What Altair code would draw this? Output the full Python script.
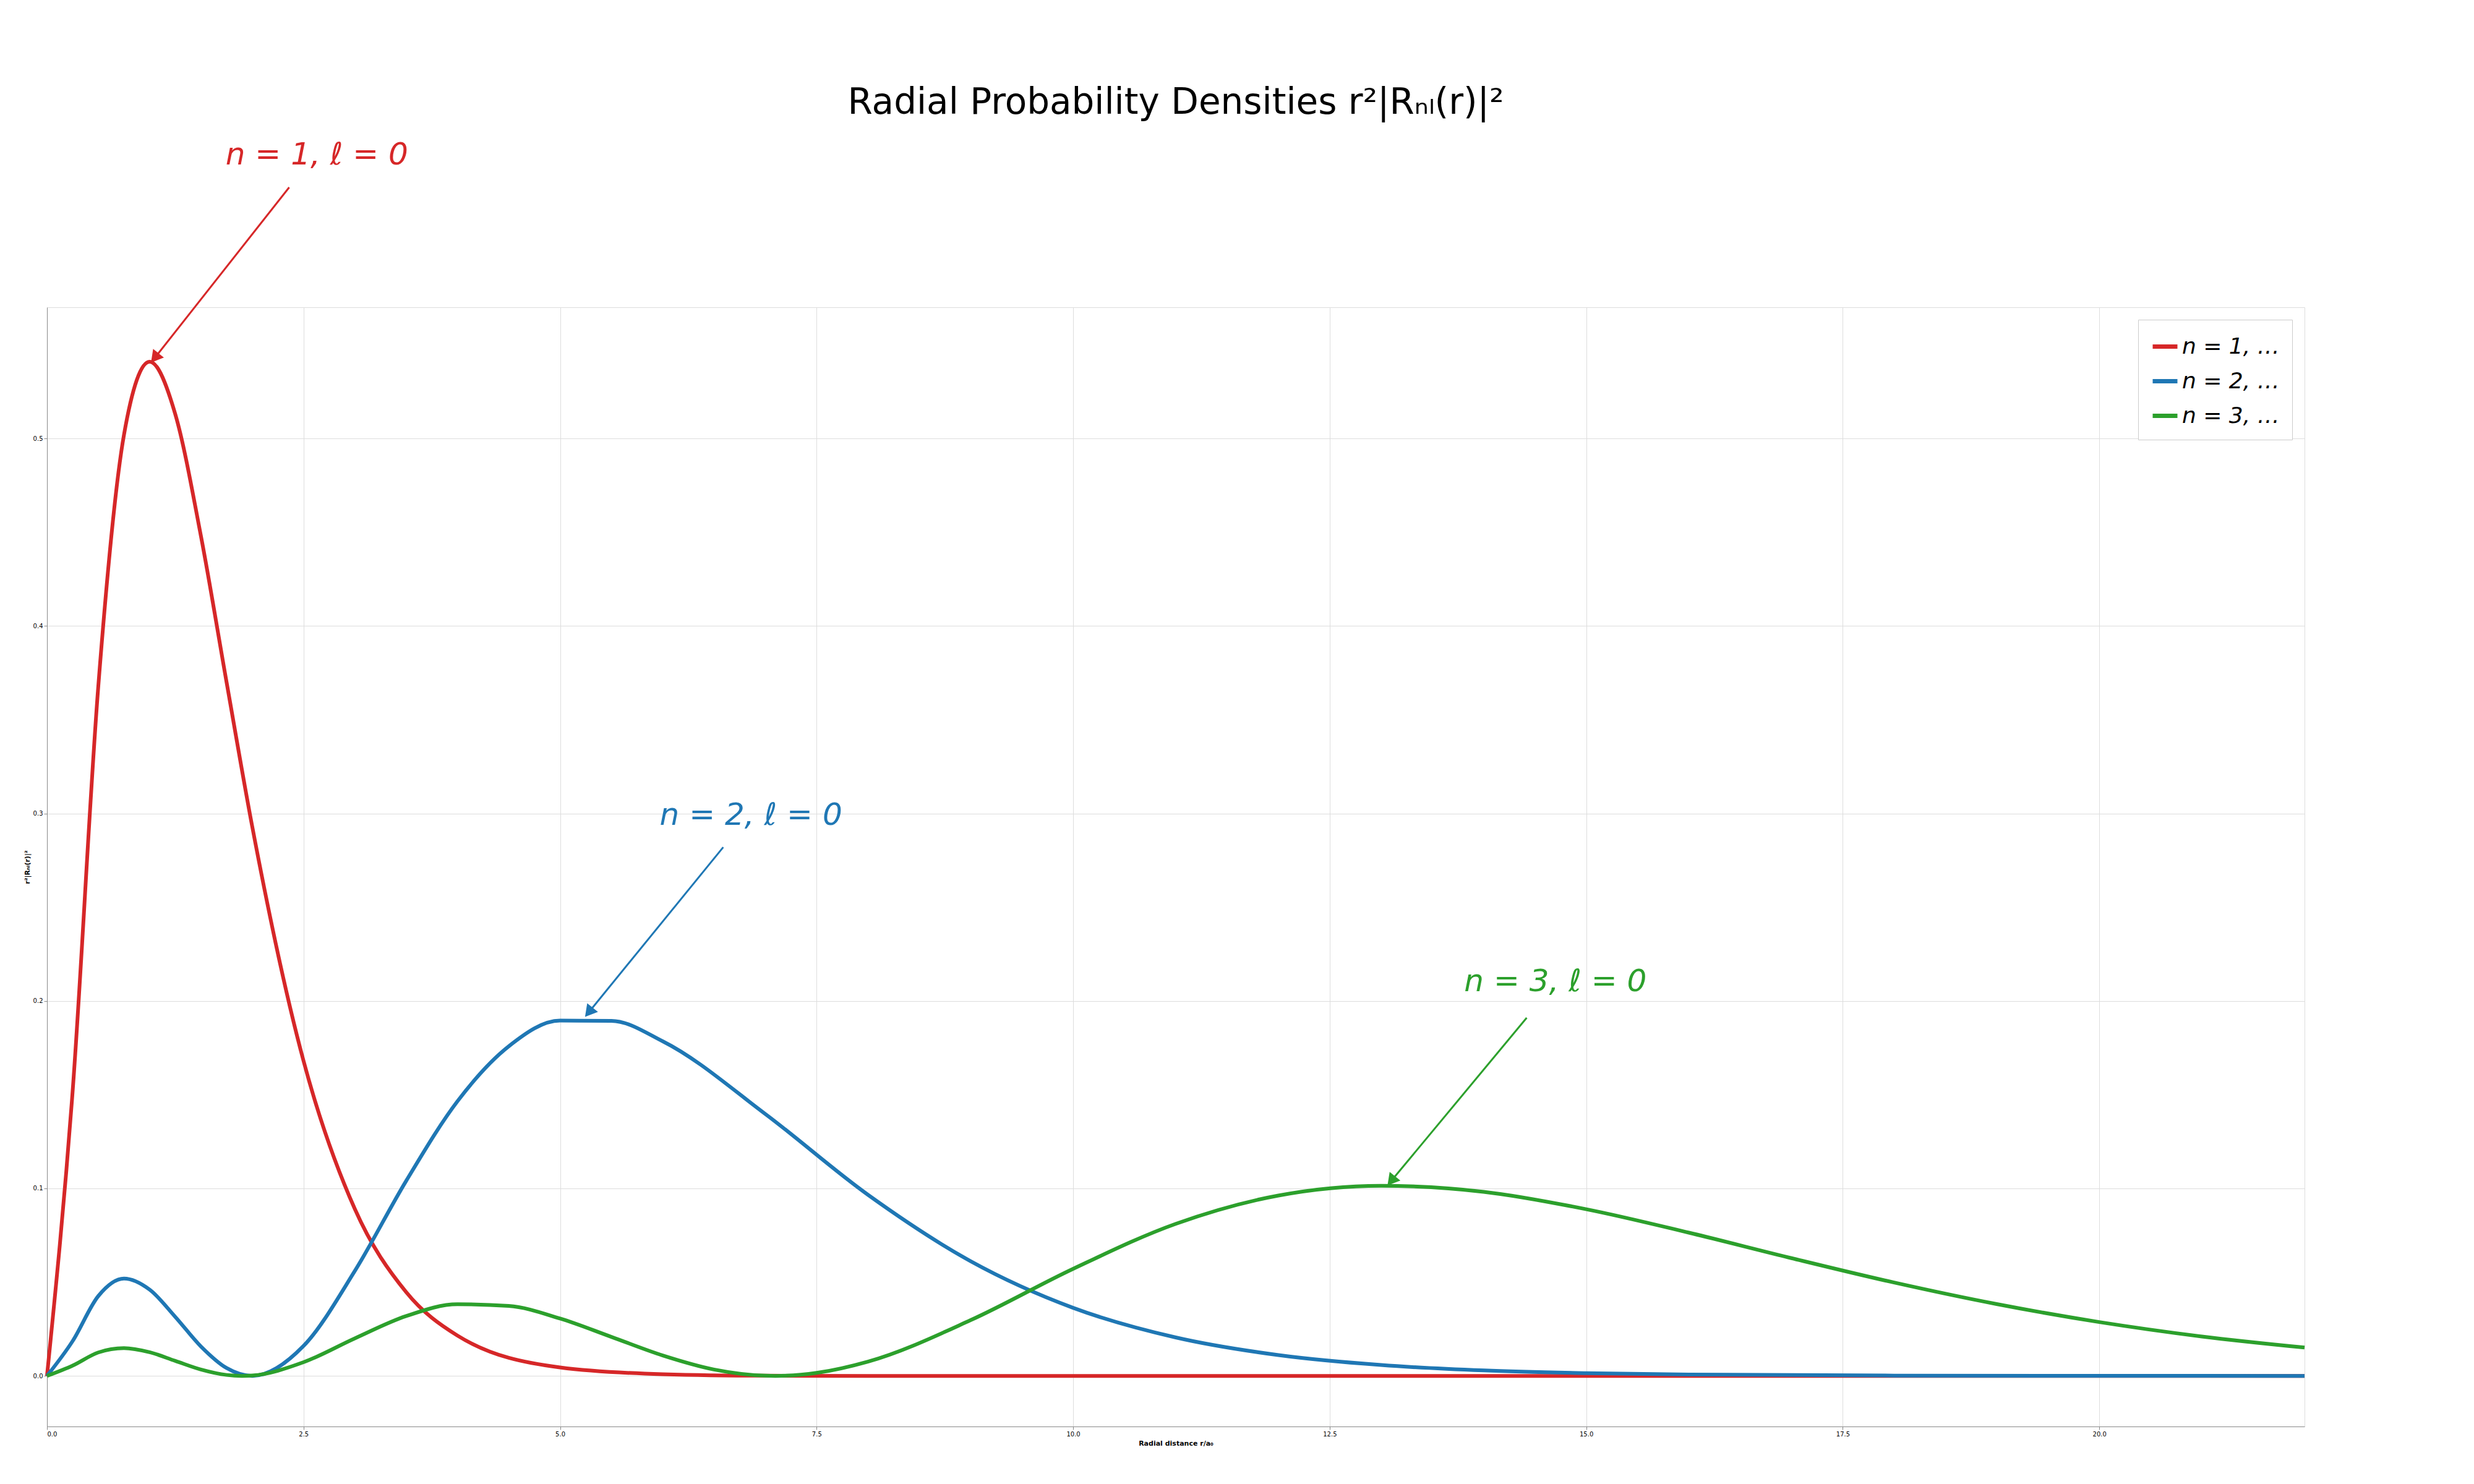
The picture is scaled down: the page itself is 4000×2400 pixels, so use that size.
import pandas as pd
import altair as alt

# values
R_1S = [0, 0.25, 0.5, 0.75, 1, 1.25, 1.5, 1.75, 2, 2.5, 3, 3.5, 4, 5, 6, 7, 8, 10, 14, 18, 22]
P_1S = [0, 0.152, 0.368, 0.502, 0.541, 0.513, 0.448, 0.370, 0.293, 0.168, 0.089, 0.0447,
        0.0215, 0.0045, 0.0009, 0.0001, 0, 0, 0, 0, 0]

R_2S = [0, 0.25, 0.5, 0.75, 1, 1.25, 1.5, 1.75, 2, 2.5, 3, 3.5, 4, 4.5, 5, 5.5, 6, 7, 8, 9,
        10, 11, 12, 13, 14, 15, 16, 18, 20, 22]
P_2S = [0, 0.0186, 0.0426, 0.0519, 0.046, 0.0315, 0.0157, 0.0042, 0, 0.016, 0.056, 0.104,
        0.1465, 0.1758, 0.1895, 0.1894, 0.1785, 0.1397, 0.0966, 0.0612, 0.0363, 0.0205,
        0.0111, 0.0058, 0.0029, 0.00145, 0.0007, 0.00015, 0.00003, 0]

R_3S = [0, 0.25, 0.5, 0.75, 1, 1.25, 1.5, 1.75, 1.9, 2, 2.5, 3, 3.5, 4, 4.5, 5, 5.5, 6, 6.5,
        7, 7.1, 7.5, 8, 9, 10, 11, 12, 13, 14, 15, 16, 17, 18, 19, 20, 21, 22]
P_3S = [0, 0.0055, 0.0125, 0.0148, 0.0126, 0.0080, 0.0034, 0.0005, 0, 0.0002, 0.0073, 0.020,
        0.0319, 0.0382, 0.0373, 0.0306, 0.0208, 0.0109, 0.0034, 0.0001, 0, 0.0016, 0.0076,
        0.0297, 0.0571, 0.0811, 0.0962, 0.1014, 0.0982, 0.0889, 0.0764, 0.0628, 0.0498,
        0.0383, 0.0287, 0.0210, 0.0151]

LABELS = ["n = 1,  ℓ = 0", "n = 2,  ℓ = 0", "n = 3,  ℓ = 0"]
COLORS = ["#d62728", "#1f77b4", "#2ca02c"]

# annotation: text position, arrow tail, arrow head
ANN_TEXT_X = [2.63, 6.86, 14.7]
ANN_TEXT_Y = [0.651, 0.299, 0.210]
ARROW_X0 = [2.36, 6.59, 14.42]
ARROW_Y0 = [0.634, 0.282, 0.191]
ARROW_X1 = [1.05, 5.28, 13.1]
ARROW_Y1 = [0.543, 0.194, 0.104]

frames = []
for lab, rs, ps in zip(LABELS, [R_1S, R_2S, R_3S], [P_1S, P_2S, P_3S]):
    frames.append(pd.DataFrame({"r": rs, "p": ps, "state": lab}))
curves = pd.concat(frames)

ann = pd.DataFrame({
    "state": LABELS, "tx": ANN_TEXT_X, "ty": ANN_TEXT_Y,
    "x0": ARROW_X0, "y0": ARROW_Y0, "x1": ARROW_X1, "y1": ARROW_Y1,
})

color = alt.Color("state:N", scale=alt.Scale(domain=LABELS, range=COLORS), title=None,
                  legend=alt.Legend(orient="top-right", symbolType="stroke", symbolStrokeWidth=7,
                                    symbolSize=1600, labelFontSize=36, labelFontStyle="italic",
                                    fillColor="white", strokeColor="#cccccc", padding=20,
                                    rowPadding=14, offset=20))
plain = alt.Color("state:N", scale=alt.Scale(domain=LABELS, range=COLORS), legend=None)

xs = alt.Scale(domain=[0, 22], nice=False)
ys = alt.Scale(domain=[-0.027, 0.57], nice=False)

lines = alt.Chart(curves).mark_line(strokeWidth=6, interpolate="monotone").encode(
    x=alt.X("r:Q", scale=xs, title="Radial distance r/a₀",
            axis=alt.Axis(values=[0, 2.5, 5, 7.5, 10, 12.5, 15, 17.5, 20], format=".1f")),
    y=alt.Y("p:Q", scale=ys, title="r²|Rₙₗ(r)|²",
            axis=alt.Axis(values=[0, 0.1, 0.2, 0.3, 0.4, 0.5], format=".1f")),
    color=color,
)

arrows = alt.Chart(ann).mark_rule(strokeWidth=3).encode(
    x="x0:Q", y="y0:Q", x2="x1:Q", y2="y1:Q", color=plain,
)
heads = alt.Chart(ann).mark_point(shape="triangle-up", filled=True, size=500, angle=219,
                                   opacity=1).encode(x="x1:Q", y="y1:Q", color=plain)
texts = alt.Chart(ann).mark_text(fontSize=50, fontStyle="italic", baseline="middle").encode(
    x="tx:Q", y="ty:Q", text="state:N", color=plain,
)

chart = alt.layer(lines, arrows, heads, texts).properties(
    width=3650, height=1810,
    title=alt.Title("Radial Probability Densities r²|Rₙₗ(r)|²", fontSize=58, fontWeight="normal",
                    offset=30),
).configure_view(stroke="black", strokeWidth=2).configure_axis(
    grid=True, gridDash=[10, 10], gridColor="#cccccc", gridWidth=2,
    labelFontSize=36, titleFontSize=50, titleFontWeight="normal", labelColor="black",
    titleColor="black", tickColor="black", tickSize=12, tickWidth=2, domain=False,
    labelPadding=8, titlePadding=20,
).configure(font="DejaVu Sans", padding={"left": 30, "top": 130, "right": 30, "bottom": 20})

chart.save("out.html", embed_options={"renderer": "svg", "actions": False})
